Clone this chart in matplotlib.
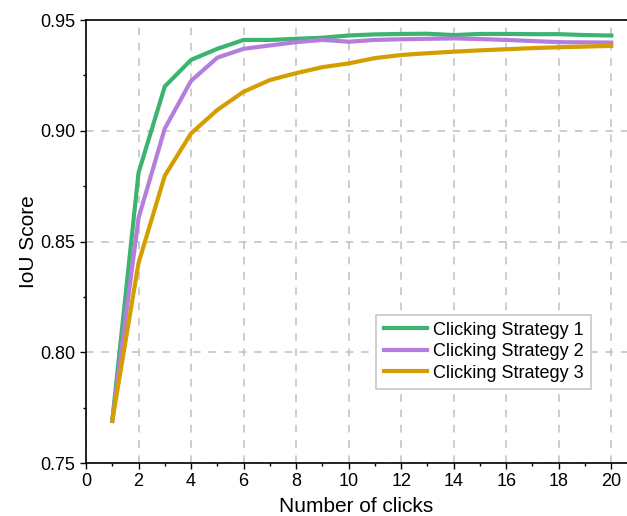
import matplotlib
matplotlib.use('Agg')
from matplotlib import pyplot as plt
from matplotlib.ticker import MultipleLocator

plt.rcParams['font.family'] = ['Liberation Sans', 'DejaVu Sans']

clicks = list(range(1, 21))
strategy1 = [0.769, 0.881, 0.920, 0.932, 0.937, 0.941, 0.941, 0.9415, 0.942, 0.943,
             0.9435, 0.9437, 0.9438, 0.9432, 0.9437, 0.9437, 0.9436, 0.9436, 0.9432, 0.943]
strategy2 = [0.769, 0.8606, 0.901, 0.9225, 0.933, 0.937, 0.9385, 0.940, 0.941, 0.9402,
             0.941, 0.9413, 0.9415, 0.9417, 0.9414, 0.941, 0.9405, 0.940, 0.9399, 0.9398]
strategy3 = [0.769, 0.8403, 0.8797, 0.8988, 0.9094, 0.9176, 0.9229, 0.926, 0.9287, 0.9304,
             0.9328, 0.9342, 0.935, 0.9357, 0.9363, 0.9368, 0.9373, 0.9377, 0.938, 0.9383]
labels = ['Clicking Strategy 1', 'Clicking Strategy 2', 'Clicking Strategy 3']
colors = ['#3cb371', '#b57edc', '#d49e00']

fig = plt.figure(figsize=(6.27, 5.16), dpi=100)
ax = fig.add_axes([86 / 627, 53 / 516, 541 / 627, 443 / 516])

for ys, lab, c in zip([strategy1, strategy2, strategy3], labels, colors):
    ax.plot(clicks, ys, color=c, linewidth=3, label=lab)

ax.set_xlim(0, 20.6)
ax.set_ylim(0.75, 0.95)
ax.xaxis.set_major_locator(MultipleLocator(2))
ax.xaxis.set_minor_locator(MultipleLocator(1))
ax.yaxis.set_major_locator(MultipleLocator(0.05))
ax.yaxis.set_minor_locator(MultipleLocator(0.025))
ax.tick_params(which='major', direction='out', length=4, width=1, labelsize=13)
ax.tick_params(which='minor', direction='out', length=2.5, width=1)
ax.grid(True, which='major', linestyle=(0, (5, 5)), color='#c0c0c0', linewidth=1.1)
ax.spines['right'].set_visible(False)
for s in ['left', 'bottom', 'top']:
    ax.spines[s].set_linewidth(1.2)

ax.set_xlabel('Number of clicks', fontsize=15, labelpad=5)
ax.set_ylabel('IoU Score', fontsize=15, labelpad=2)
leg = ax.legend(loc='lower right', bbox_to_anchor=(0.9335, 0.167), borderaxespad=0,
                fontsize=13, fancybox=False, handlelength=2.4, borderpad=0.4,
                labelspacing=0.25, handletextpad=0.35, framealpha=1)
leg.get_frame().set_edgecolor('#c8c8c8')
leg.get_frame().set_linewidth(1.2)

plt.savefig('out.png', dpi=100)
